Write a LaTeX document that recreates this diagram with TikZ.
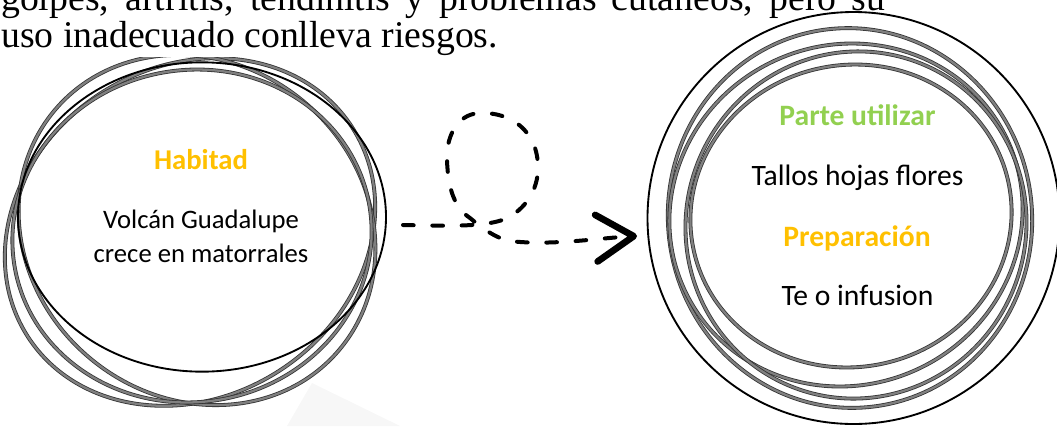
\documentclass[tikz,border=0pt]{standalone}
\usepackage{fontspec}
\setmainfont{Liberation Serif}
\newfontfamily\calib{Carlito}
\usetikzlibrary{arrows.meta,positioning,shapes.geometric}
\definecolor{habyellow}{HTML}{FFC000}
\definecolor{partgreen}{HTML}{92D050}

\begin{document}
\begin{tikzpicture}[x=0.75pt, y=-0.75pt,
    blackring/.style={draw=black, line width=1.4pt, inner sep=0pt},
    grayring/.style={draw=black!80, line width=0.6pt, double=black!50, double distance=1.7pt},
    para/.style={font=\fontsize{28.3}{34}\selectfont, anchor=base west, inner sep=0pt},
    title/.style={font=\calib\bfseries\fontsize{21.5}{26}\selectfont, anchor=base, inner sep=0pt},
    body/.style={font=\calib\fontsize{20}{24}\selectfont, anchor=base, inner sep=0pt},
    bigtitle/.style={title, font=\calib\bfseries\fontsize{22.2}{26}\selectfont},
    bigbody/.style={body, font=\calib\fontsize{22.2}{26}\selectfont},
    loopline/.style={line width=3pt, line cap=round, dash pattern=on 8pt off 14pt,
        -{Straight Barb[length=28pt, width=35pt, line width=5pt, round]}}]
    \useasboundingbox (0,0) rectangle (1057,426);
    % faint shadow under the left ring
    \fill[black!3] (312,383) -- (287,426) -- (400,426) -- cycle;
    % left ring: Habitad
    \draw[grayring, rotate around={33:(190,232)}] (190,232) ellipse [x radius=193, y radius=165];
    \draw[grayring, rotate around={-40:(197,230)}] (197,230) ellipse [x radius=186, y radius=167];
    \draw[grayring, rotate around={10:(192,236)}] (192,236) ellipse [x radius=180, y radius=166];
    \node[blackring, ellipse, minimum width=276pt, minimum height=232pt] (habitat) at (202,217) {};
    \node[title, text=habyellow] (habT) at (201,169) {Habitad};
    \node[body] (hab1) at (201,228) {Volcán Guadalupe};
    \node[body] (hab2) at (201,262) {crece en matorrales};
    % right ring: Parte utilizar / Preparacion
    \draw[grayring, rotate around={8:(850,218)}] (850,218) ellipse [x radius=182, y radius=190];
    \draw[grayring, rotate around={25:(846,215)}] (846,215) ellipse [x radius=178, y radius=170];
    \draw[grayring, rotate around={-20:(856,225)}] (856,225) ellipse [x radius=170, y radius=174];
    \draw[grayring, rotate around={12:(851,216)}] (851,216) ellipse [x radius=161, y radius=151];
    \node[blackring, circle, minimum size=309pt] (planta) at (853.5,218) {};
    \node[bigtitle, text=partgreen] (parT) at (857.5,125) {Parte utilizar};
    \node[bigbody] (par1) at (857.5,185) {Tallos hojas flores};
    \node[bigtitle, text=habyellow] (prepT) at (857,246) {Preparación};
    \node[bigbody] (prep1) at (857.5,305) {Te o infusion};
    % looping dashed arrow
    \coordinate (arrS) at (403,225);
    \coordinate (arrE) at (637,236);
    \draw[loopline] (arrS) .. controls (450,226) and (485,227) .. (505,219)
        .. controls (525,210) and (538,190) .. (538,168)
        .. controls (538,130) and (510,112) .. (480,113)
        .. controls (455,114) and (446,140) .. (447,160)
        .. controls (448,190) and (455,208) .. (470,218)
        .. controls (482,228) and (495,238) .. (510,241)
        .. controls (550,246) and (600,238) .. (arrE);
    % text above, it covers the ring tops
    \fill[white] (0,-5) rectangle (655,57);
    \node[para] (ln1) at (1,10) {\makebox[663pt][s]{golpes, artritis, tendinitis y problemas cutáneos, pero su}};
    \node[para] (ln2) at (1,47) {uso inadecuado conlleva riesgos.};
\end{tikzpicture}
\end{document}
